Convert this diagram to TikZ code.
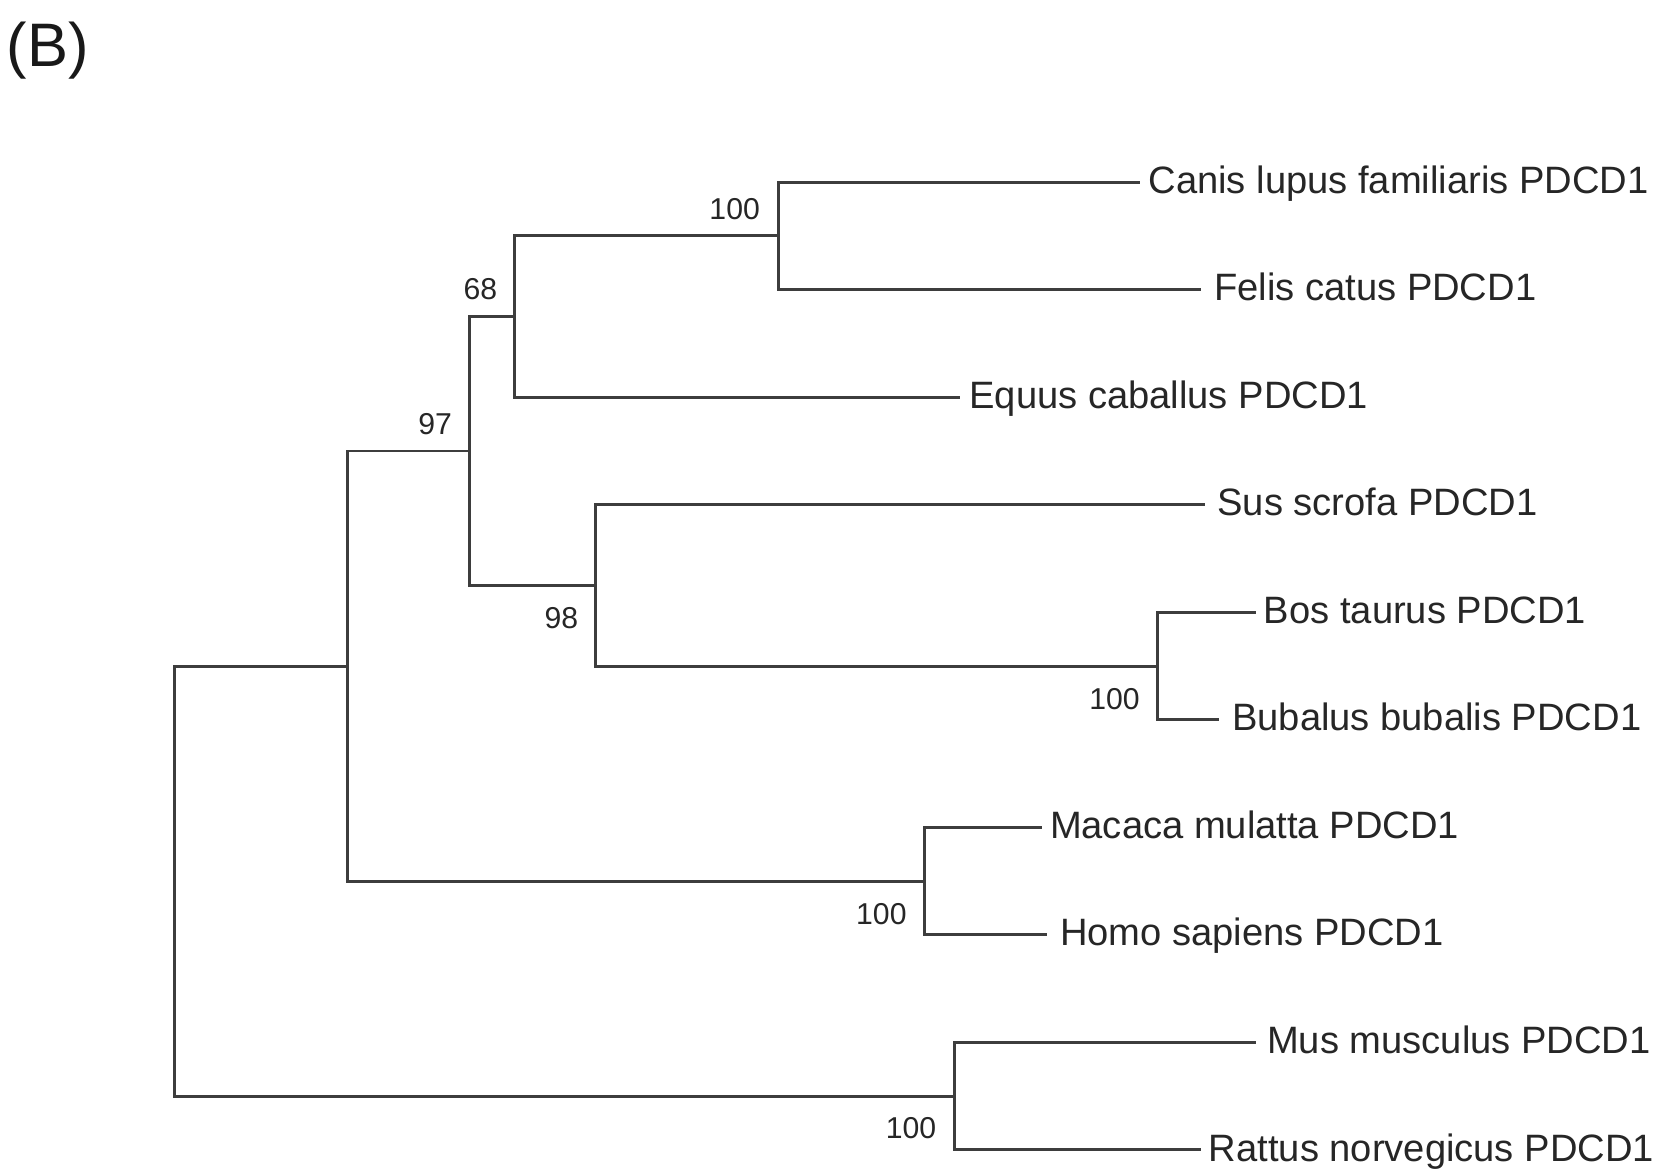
\documentclass[tikz,border=0pt]{standalone}
\usepackage{fontspec}
\setmainfont{Liberation Sans}
\begin{document}
\begin{tikzpicture}[x=1pt,y=-1pt,
  br/.style={draw=black!76, line width=2.8pt, line join=miter},
  leaf/.style={anchor=base west, inner sep=0pt, font=\fontsize{36}{40}\selectfont, text=black!85},
  bs/.style={anchor=east, inner sep=0pt, font=\fontsize{28.5}{32}\selectfont, text=black!85}]
\useasboundingbox (0,0) rectangle (1568,1104);
\fill[white] (0,0) rectangle (1568,1104);

\node[anchor=base west, inner sep=0pt, font=\fontsize{58}{62}\selectfont, text=black!90] (panel) at (6,63) {(B)};

% internal nodes
\coordinate (root) at (164.8,830.75);
\coordinate (nA) at (328.3,628.75);
\coordinate (n97) at (443.3,425.75);
\coordinate (n68) at (486,298.9);
\coordinate (n100a) at (735,222.75);
\coordinate (n98) at (562.5,552.6);
\coordinate (nBos) at (1092.5,628.75);
\coordinate (nMac) at (872.5,831.75);
\coordinate (nMus) at (901.5,1034.75);

% leaf ends
\coordinate (lCanis) at (1076,172);
\coordinate (lFelis) at (1134,273.5);
\coordinate (lEquus) at (906,375);
\coordinate (lSus) at (1137.5,476.5);
\coordinate (lBos) at (1186,578);
\coordinate (lBub) at (1151,679.5);
\coordinate (lMac) at (983.5,781);
\coordinate (lHomo) at (988.5,882.5);
\coordinate (lMus) at (1186,984);
\coordinate (lRat) at (1134,1085.5);

% branches
\draw[br] (root) |- (nA);
\draw[br] (root) |- (nMus);
\draw[br] (nA) |- (n97);
\draw[br] (nA) |- (nMac);
\draw[br] (n97) |- (n68);
\draw[br] (n97) |- (n98);
\draw[br] (n68) |- (n100a);
\draw[br] (n68) |- (lEquus);
\draw[br] (n100a) |- (lCanis);
\draw[br] (n100a) |- (lFelis);
\draw[br] (n98) |- (lSus);
\draw[br] (n98) |- (nBos);
\draw[br] (nBos) |- (lBos);
\draw[br] (nBos) |- (lBub);
\draw[br] (nMac) |- (lMac);
\draw[br] (nMac) |- (lHomo);
\draw[br] (nMus) |- (lMus);
\draw[br] (nMus) |- (lRat);

% leaf labels
\node[leaf] (tCanis) at (1084,182.5) {Canis lupus familiaris PDCD1};
\node[leaf] (tFelis) at (1146,284) {Felis catus PDCD1};
\node[leaf] (tEquus) at (915,385.5) {Equus caballus PDCD1};
\node[leaf] (tSus) at (1149,487) {Sus scrofa PDCD1};
\node[leaf] (tBos) at (1193,588.5) {Bos taurus PDCD1};
\node[leaf] (tBub) at (1163,690) {Bubalus bubalis PDCD1};
\node[leaf] (tMac) at (991,791.5) {Macaca mulatta PDCD1};
\node[leaf] (tHomo) at (1000.5,893) {Homo sapiens PDCD1};
\node[leaf] (tMus) at (1196,994.5) {Mus musculus PDCD1};
\node[leaf] (tRat) at (1141,1096) {Rattus norvegicus PDCD1};

% bootstrap values
\node[bs] (b100a) at (717.5,197) {100};
\node[bs] (b68) at (469.5,273) {68};
\node[bs] (b97) at (426.8,400) {97};
\node[bs] (b98) at (546,583.6) {98};
\node[bs] (bBos) at (1076,659.75) {100};
\node[bs] (bMac) at (856,862.75) {100};
\node[bs] (bMus) at (884,1064.5) {100};
\end{tikzpicture}
\end{document}
